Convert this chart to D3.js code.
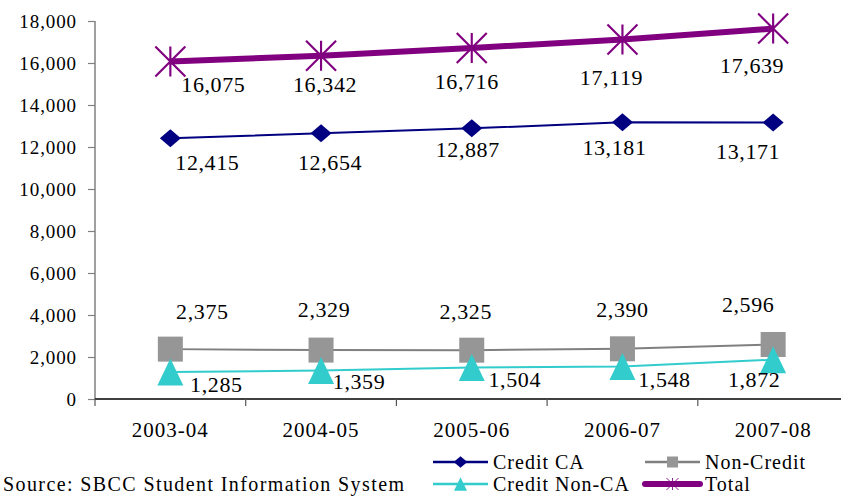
<!DOCTYPE html>
<html>
<head>
<meta charset="utf-8">
<script src="https://cdn.jsdelivr.net/npm/d3@7/dist/d3.min.js"></script>
<style>
  html, body { margin: 0; padding: 0; background: #fff; }
  svg { display: block; font-family: "Liberation Serif", "Times New Roman", serif; }
</style>
</head>
<body>
<svg id="chart" width="841" height="496"></svg>
<script>
// Academic years on the x axis
const years = ["2003-04", "2004-05", "2005-06", "2006-07", "2007-08"];

// Headcount per series
const creditCA    = [12415, 12654, 12887, 13181, 13171];
const nonCredit   = [2375, 2329, 2325, 2390, 2596];
const creditNonCA = [1285, 1359, 1504, 1548, 1872];
const total       = [16075, 16342, 16716, 17119, 17639];

// Y axis tick values
const yTicks = [0, 2000, 4000, 6000, 8000, 10000, 12000, 14000, 16000, 18000];

const sourceNote = "Source: SBCC Student Information System";

// Value-label placement relative to each marker: [dx, dy to baseline]
const creditCALabelPos    = [[37, 32], [9, 37], [-4, 29], [-8, 33], [-25, 37]];
const nonCreditLabelPos   = [[32, -30], [3, -33], [-6, -31], [0, -32], [-25, -32]];
const creditNonCALabelPos = [[46, 20], [38, 19], [43, 20], [42, 21], [-19, 27]];
const totalLabelPos       = [[43, 31], [4, 36], [-5, 41], [-11, 45], [-21, 44]];

const svg = d3.select("#chart");

const x = d3.scaleBand().domain(years).range([95, 848.5]).padding(0);
const y = d3.scaleLinear().domain([0, 18000]).range([399, 21]);
const cx = d => x(d) + x.bandwidth() / 2;

// Y axis
const yAxis = svg.append("g").attr("transform", "translate(95,0)")
  .call(d3.axisLeft(y).tickValues(yTicks).tickFormat(d3.format(",")).tickSize(7).tickPadding(11));
yAxis.select(".domain").attr("stroke", "#808080").attr("stroke-width", 1.5).attr("d", "M0,21V399");
yAxis.selectAll(".tick line").attr("stroke", "#808080").attr("stroke-width", 1.2);
yAxis.selectAll(".tick text")
  .attr("font-family", "Liberation Serif").attr("font-size", 19).attr("fill", "#000")
  .attr("letter-spacing", "0.9px").attr("dy", "0.33em");

// X axis: baseline plus tick marks at category boundaries
const xAxis = svg.append("g");
xAxis.append("line").attr("x1", 95).attr("x2", 841).attr("y1", 399).attr("y2", 399)
  .attr("stroke", "#000").attr("stroke-width", 1.5);
xAxis.selectAll("line.tk").data(years).join("line").attr("class", "tk")
  .attr("x1", d => x(d)).attr("x2", d => x(d)).attr("y1", 399).attr("y2", 406)
  .attr("stroke", "#555").attr("stroke-width", 1.2);
xAxis.selectAll("text").data(years).join("text")
  .attr("x", d => cx(d)).attr("y", 437).attr("text-anchor", "middle")
  .attr("font-size", 21).attr("letter-spacing", "1px").attr("fill", "#000")
  .text(d => d);

// Marker shapes
function drawMarker(g, kind, size, color) {
  if (kind === "diamond") {
    const w = size * 1.05, h = size * 0.9;
    g.append("path").attr("d", `M0,${-h}L${w},0L0,${h}L${-w},0Z`).attr("fill", color);
  } else if (kind === "square") {
    g.append("rect").attr("x", -size).attr("y", -size).attr("width", size * 2).attr("height", size * 2)
      .attr("fill", color);
  } else if (kind === "triangle") {
    g.append("path").attr("d", `M0,${-size * 1.04}L${size},${size * 1.04}L${-size},${size * 1.04}Z`).attr("fill", color);
  } else if (kind === "star") {
    g.append("path")
      .attr("d", `M0,${-size}V${size}M${-size},${-size}L${size},${size}M${size},${-size}L${-size},${size}`)
      .attr("stroke", color).attr("stroke-width", size / 7).attr("fill", "none");
  }
}

const series = [
  { name: "Credit CA", values: creditCA, line: "#000080", marker: "#000080", width: 2, kind: "diamond", size: 10, pos: creditCALabelPos },
  { name: "Non-Credit", values: nonCredit, line: "#808080", marker: "#969696", width: 2, kind: "square", size: 12.5, pos: nonCreditLabelPos },
  { name: "Credit Non-CA", values: creditNonCA, line: "#33CCCC", marker: "#33CCCC", width: 2, kind: "triangle", size: 13, pos: creditNonCALabelPos },
  { name: "Total", values: total, line: "#800080", marker: "#800080", width: 6, kind: "star", size: 15, pos: totalLabelPos }
];

const lineGen = d3.line().x((d, i) => cx(years[i])).y(d => y(d));

series.forEach(s => {
  const g = svg.append("g");
  g.append("path").attr("d", lineGen(s.values)).attr("fill", "none")
    .attr("stroke", s.line).attr("stroke-width", s.width);
  s.values.forEach((v, i) => {
    const m = g.append("g").attr("transform", `translate(${cx(years[i])},${y(v)})`);
    drawMarker(m, s.kind, s.size, s.marker);
  });
});

// Value labels
series.forEach(s => {
  svg.append("g").selectAll("text").data(s.values).join("text")
    .attr("x", (v, i) => cx(years[i]) + s.pos[i][0])
    .attr("y", (v, i) => y(v) + s.pos[i][1])
    .attr("text-anchor", "middle").attr("font-size", 22).attr("letter-spacing", "0.6px")
    .attr("fill", "#000")
    .text(v => d3.format(",")(v));
});

// Source note
svg.append("text").attr("x", 3).attr("y", 491).attr("font-size", 20).attr("letter-spacing", "1.4px")
  .attr("fill", "#000").text(sourceNote);

// Legend (two columns, two rows)
const legendCells = [
  { s: series[0], x: 433, y: 462 },
  { s: series[1], x: 645, y: 462 },
  { s: series[2], x: 433, y: 484 },
  { s: series[3], x: 645, y: 484 }
];
const legendSize = { diamond: 6.5, square: 5.5, triangle: 6.5, star: 6 };
legendCells.forEach(c => {
  const g = svg.append("g").attr("transform", `translate(${c.x},${c.y})`);
  g.append("line").attr("x1", 0).attr("x2", 55).attr("y1", 0).attr("y2", 0)
    .attr("stroke", c.s.line).attr("stroke-width", c.s.kind === "star" ? 6 : 2.5)
    .attr("stroke-linecap", c.s.kind === "star" ? "round" : "butt");
  const m = g.append("g").attr("transform", "translate(27.5,0)");
  drawMarker(m, c.s.kind, legendSize[c.s.kind], c.s.marker);
  g.append("text").attr("x", 60).attr("y", 7).attr("font-size", 20).attr("letter-spacing", "1px")
    .attr("fill", "#000").text(c.s.name);
});
</script>
</body>
</html>
